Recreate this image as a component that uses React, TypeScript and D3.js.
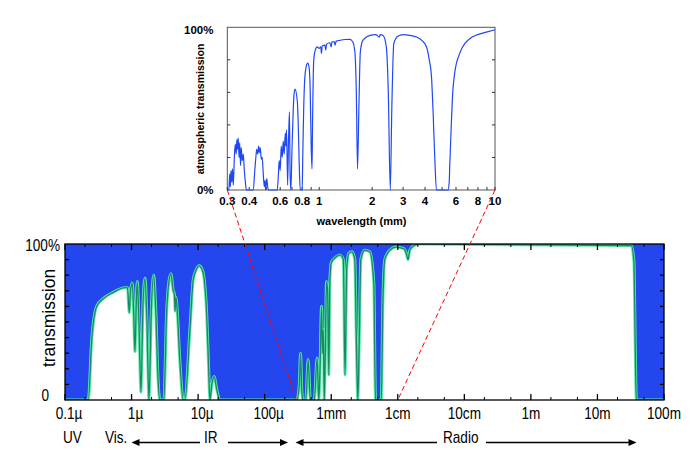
import React from 'react';
import * as d3 from 'd3';

// Main chart: wavelength (µm) vs atmospheric transmission (0..1)
const mainSpectrum: [number, number][] = [
  [0.1, 0], [0.224, 0], [0.252, 0.385], [0.299, 0.6], [0.376, 0.65], [0.531, 0.69], [0.796, 0.72],
  [0.868, 0.72], [0.924, 0.56], [0.963, 0.7], [1.024, 0.75], [1.068, 0.6], [1.125, 0.31], [1.173, 0.6],
  [1.218, 0.76], [1.291, 0.5], [1.384, 0.05], [1.483, 0.6], [1.59, 0.78], [1.703, 0.5], [1.825, 0],
  [1.99, 0.6], [2.147, 0.8], [2.32, 0.55], [2.49, 0.15], [2.67, 0], [3.06, 0], [3.365, 0.56], [3.62, 0.75],
  [3.905, 0.81], [4.23, 0.7], [4.4, 0.68], [4.51, 0.57], [4.64, 0.66], [4.81, 0.6], [5.33, 0.24], [5.97, 0],
  [6.34, 0], [7.53, 0.45], [8.44, 0.77], [9.27, 0.83], [10.39, 0.86], [11.4, 0.84], [12.22, 0.79],
  [13.42, 0.56], [14.28, 0.25], [15.04, 0], [16.1, 0.1], [17.45, 0.15], [18.83, 0.08], [21.25, 0],
  [304.5, 0], [332, 0.1], [346, 0.3], [362, 0.05], [374.6, 0], [415.5, 0], [450, 0.26], [485.5, 0],
  [557, 0], [614, 0.27], [651, 0], [679, 0.2], [715, 0.6], [740, 0.3], [761, 0.45], [785, 0], [815, 0.3],
  [850, 0.76], [883, 0.7], [920, 0.16], [953, 0.75], [1000, 0.88], [1133, 0.91], [1346, 0.93], [1520, 0.9],
  [1611, 0.16], [1714, 0.85], [1837, 0.94], [2039, 0.95], [2261, 0.9], [2382, 0.4], [2508, 0], [2642, 0.4],
  [2782, 0.9], [3196, 0.96], [3800, 0.95], [4365, 0.75], [4628, 0], [5655, 0], [5957, 0.6], [6383, 0.9],
  [7585, 0.96], [9332, 0.98], [12300, 0.97], [13420, 0.94], [14280, 0.9], [15140, 0.96], [17380, 0.99],
  [21400, 1.0], [3.23e7, 0.99], [3.53e7, 0.89], [3.71e7, 0.3], [3.84e7, 0], [1e8, 0],
];

// Inset: wavelength (mm) vs transmission
const insetSpectrum: [number, number][] = [
  [0.300, 0], [0.306, 0], [0.310, 0.10], [0.312, 0.02], [0.315, 0.12], [0.318, 0.05], [0.321, 0.13],
  [0.3245, 0.03], [0.329, 0.20], [0.333, 0.28], [0.337, 0.22], [0.340, 0.31], [0.343, 0.25], [0.346, 0.32],
  [0.350, 0.20], [0.353, 0.29], [0.357, 0.15], [0.360, 0.26], [0.365, 0.18], [0.370, 0.22], [0.375, 0.12],
  [0.380, 0.05], [0.385, 0], [0.4216, 0], [0.430, 0.12], [0.436, 0.20], [0.441, 0.25], [0.447, 0.22],
  [0.452, 0.27], [0.457, 0.23], [0.462, 0.26], [0.468, 0.19], [0.474, 0.20], [0.4805, 0.10], [0.487, 0.02],
  [0.492, 0.06], [0.496, 0], [0.503, 0.07], [0.509, 0.02], [0.516, 0], [0.577, 0], [0.585, 0.08],
  [0.592, 0.18], [0.600, 0.12], [0.608, 0.27], [0.616, 0.20], [0.624, 0.30], [0.632, 0.22], [0.641, 0.35],
  [0.647, 0.27], [0.652, 0.37], [0.661, 0.03], [0.669, 0.30], [0.677, 0.48], [0.683, 0.10], [0.690, 0],
  [0.700, 0.25], [0.712, 0.50], [0.718, 0.58], [0.728, 0.62], [0.750, 0.55], [0.760, 0.40], [0.770, 0.15],
  [0.780, 0], [0.800, 0], [0.806, 0.20], [0.816, 0.50], [0.827, 0.68], [0.844, 0.76], [0.860, 0.78],
  [0.877, 0.75], [0.889, 0.60], [0.901, 0.25], [0.910, 0.13], [0.916, 0.40], [0.931, 0.80], [0.949, 0.86],
  [0.974, 0.88], [1.0, 0.87], [1.02, 0.88], [1.03, 0.84], [1.04, 0.885], [1.077, 0.89], [1.09, 0.86],
  [1.10, 0.895], [1.15, 0.905], [1.17, 0.88], [1.18, 0.91], [1.22, 0.91], [1.23, 0.89], [1.25, 0.915],
  [1.31, 0.92], [1.40, 0.925], [1.494, 0.926], [1.553, 0.91], [1.595, 0.85], [1.626, 0.60], [1.652, 0.13],
  [1.681, 0.50], [1.714, 0.85], [1.771, 0.92], [1.941, 0.95], [2.099, 0.955], [2.2, 0.94], [2.22, 0.955],
  [2.309, 0.95], [2.408, 0.88], [2.472, 0.60], [2.537, 0], [2.588, 0.50], [2.656, 0.90], [2.799, 0.945],
  [3.0, 0.955], [3.277, 0.95], [3.576, 0.94], [3.832, 0.92], [4.075, 0.88], [4.227, 0.80], [4.35, 0.70],
  [4.455, 0.45], [4.543, 0.20], [4.644, 0], [5.406, 0], [5.49, 0.05], [5.53, 0.15], [5.64, 0.40],
  [5.75, 0.60], [5.90, 0.72], [6.30, 0.84], [6.73, 0.90], [7.18, 0.93], [7.97, 0.955], [8.93, 0.97],
  [10, 0.985],
];

const mainTickValues = [0.1, 1, 10, 100, 1e3, 1e4, 1e5, 1e6, 1e7, 1e8];
const mainTickLabels = ['0.1µ', '1µ', '10µ', '100µ', '1mm', '1cm', '10cm', '1m', '10m', '100m'];
const insetTickValues = [0.3, 0.4, 0.6, 0.8, 1, 2, 3, 4, 6, 8, 10];
const insetTickLabels = ['0.3', '0.4', '0.6', '0.8', '1', '2', '3', '4', '6', '8', '10'];
const insetMinorTicks = [0.5, 0.7, 0.9, 5, 7, 9];
const zoomRangeMm = [0.3, 10];

const FONT = 'Liberation Sans, Arial, Helvetica, sans-serif';
const BLUE = '#2346ef';

export default function App() {
  const mx = d3.scaleLog().domain([0.1, 1e8]).range([65, 664]);
  const my = d3.scaleLinear().domain([0, 1]).range([400, 244]);
  const ix = d3.scaleLog().domain([0.3, 10]).range([227.3, 495]);
  const iy = d3.scaleLinear().domain([0, 1]).range([190, 27.3]);

  const area = d3.area<[number, number]>()
    .x(d => mx(d[0])).y0(my(0)).y1(d => my(d[1])).curve(d3.curveMonotoneX);
  const line = d3.line<[number, number]>()
    .x(d => mx(d[0])).y(d => my(d[1])).curve(d3.curveMonotoneX);
  const iline = d3.line<[number, number]>()
    .x(d => ix(d[0])).y(d => iy(d[1])).curve(d3.curveMonotoneX);

  const [x0, x1] = mx.range();
  const [yb, yt] = my.range();

  const minorMain: number[] = [];
  mainTickValues.slice(0, -1).forEach(v => { minorMain.push(v * 2, v * 5); });
  const yTicks = d3.range(1, 10).map(i => i / 10);
  const iyTicks = [0.2, 0.4, 0.6, 0.8];

  const txt = (x: number, y: number, s: string, anchor: string = 'middle', extra: any = {}) => (
    <text transform={`translate(${x},${y}) scale(0.85,1)`} textAnchor={anchor}
      fontFamily={FONT} fontSize={16} fill="#000" {...extra}>{s}</text>
  );

  const arrow = (xa: number, xb: number, y: number, key: string) => {
    // arrow head at xb
    const dir = xb > xa ? 1 : -1;
    return (
      <g key={key}>
        <line x1={xa} x2={xb - dir * 6} y1={y} y2={y} stroke="#000" strokeWidth={1.4} />
        <path d={`M${xb},${y} L${xb - dir * 8},${y - 3.5} L${xb - dir * 8},${y + 3.5} Z`} fill="#000" />
      </g>
    );
  };

  return (
    <svg width={692} height={462} style={{ position: 'absolute', left: 0, top: 0, display: 'block' }}>
      <rect x={0} y={0} width={692} height={462} fill="#fff" />
      <defs>
        <clipPath id="plotclip">
          <rect x={x0} y={yt} width={x1 - x0} height={yb - yt} />
        </clipPath>
      </defs>

      {/* Main chart */}
      <rect x={x0} y={yt} width={x1 - x0} height={yb - yt} fill={BLUE} />
      <g clipPath="url(#plotclip)">
        <path d={area(mainSpectrum) || ''} fill="#fff" />
        <path d={line(mainSpectrum) || ''} fill="none" stroke="#5ee8aa" strokeWidth={3} />
        <path d={line(mainSpectrum) || ''} fill="none" stroke="#178a64" strokeWidth={1.3} />
      </g>
      <rect x={x0} y={yt} width={x1 - x0} height={yb - yt} fill="none" stroke="#000" strokeWidth={1.3} />
      {mainTickValues.map(v => (
        <g key={'mt' + v}>
          <line x1={mx(v)} x2={mx(v)} y1={yb} y2={yb - 6} stroke="#000" strokeWidth={1.3} />
          <line x1={mx(v)} x2={mx(v)} y1={yt} y2={yt + 6} stroke="#000" strokeWidth={1.3} />
        </g>
      ))}
      {minorMain.map(v => (
        <g key={'mn' + v}>
          <line x1={mx(v)} x2={mx(v)} y1={yb} y2={yb - 3} stroke="#000" strokeWidth={1} />
          <line x1={mx(v)} x2={mx(v)} y1={yt} y2={yt + 3} stroke="#000" strokeWidth={1} />
        </g>
      ))}
      {yTicks.map(t => (
        <g key={'yt' + t}>
          <line x1={x0} x2={x0 + 4} y1={my(t)} y2={my(t)} stroke="#000" strokeWidth={1.3} />
          <line x1={x1} x2={x1 - 4} y1={my(t)} y2={my(t)} stroke="#000" strokeWidth={1.3} />
        </g>
      ))}
      {mainTickValues.map((v, i) => (
        <g key={'ml' + v}>
          {txt(mx(v) + (mainTickLabels[i].includes('µ') ? 4 : 0), 418.5, mainTickLabels[i])}
        </g>
      ))}
      {txt(60, 250.5, '100%', 'end')}
      {txt(49, 400.5, '0', 'end')}
      <text transform="translate(55,318) rotate(-90)" textAnchor="middle" fontFamily={FONT} fontSize={17.5}>transmission</text>

      {/* Band labels */}
      {txt(63, 443, 'UV', 'start')}
      {txt(105, 443, 'Vis.', 'start')}
      {arrow(200, 131.5, 442.5, 'a1')}
      {txt(204, 443, 'IR', 'start')}
      {arrow(228, 288, 442.5, 'a2')}
      {arrow(437, 295.5, 442.5, 'a3')}
      {txt(443, 443, 'Radio', 'start')}
      {arrow(486, 636.5, 442.5, 'a4')}

      {/* Inset */}
      <rect x={ix(0.3)} y={iy(1)} width={ix(10) - ix(0.3)} height={iy(0) - iy(1)} fill="#fff" stroke="#555" strokeWidth={1} />
      {insetTickValues.concat(insetMinorTicks).map(v => (
        <line key={'it' + v} x1={ix(v)} x2={ix(v)} y1={iy(0)} y2={iy(0) - 3} stroke="#333" strokeWidth={1} />
      ))}
      {iyTicks.map(t => (
        <g key={'iyt' + t}>
          <line x1={ix(0.3)} x2={ix(0.3) + 3} y1={iy(t)} y2={iy(t)} stroke="#333" strokeWidth={1} />
          <line x1={ix(10)} x2={ix(10) - 3} y1={iy(t)} y2={iy(t)} stroke="#333" strokeWidth={1} />
        </g>
      ))}
      <path d={iline(insetSpectrum) || ''} fill="none" stroke="#2048f2" strokeWidth={1.2} />
      {insetTickValues.map((v, i) => (
        <text key={'il' + v} x={ix(v)} y={205} textAnchor="middle" fontFamily={FONT} fontSize={11.5} fontWeight="bold">{insetTickLabels[i]}</text>
      ))}
      <text x={213.5} y={34} textAnchor="end" fontFamily={FONT} fontSize={11.5} fontWeight="bold">100%</text>
      <text x={213.5} y={194} textAnchor="end" fontFamily={FONT} fontSize={11.5} fontWeight="bold">0%</text>
      <text x={361.5} y={224.5} textAnchor="middle" fontFamily={FONT} fontSize={11} fontWeight="bold">wavelength (mm)</text>
      <text transform="translate(204,109) rotate(-90)" textAnchor="middle" fontFamily={FONT} fontSize={10.5} fontWeight="bold">atmospheric transmission</text>

      {/* Zoom connector lines */}
      <line x1={ix(zoomRangeMm[0])} y1={iy(0)} x2={mx(zoomRangeMm[0] * 1000)} y2={yb} stroke="#ff0000" strokeWidth={1} strokeDasharray="5,3" />
      <line x1={ix(zoomRangeMm[1])} y1={iy(0)} x2={mx(zoomRangeMm[1] * 1000)} y2={yb} stroke="#ff0000" strokeWidth={1} strokeDasharray="5,3" />
    </svg>
  );
}
